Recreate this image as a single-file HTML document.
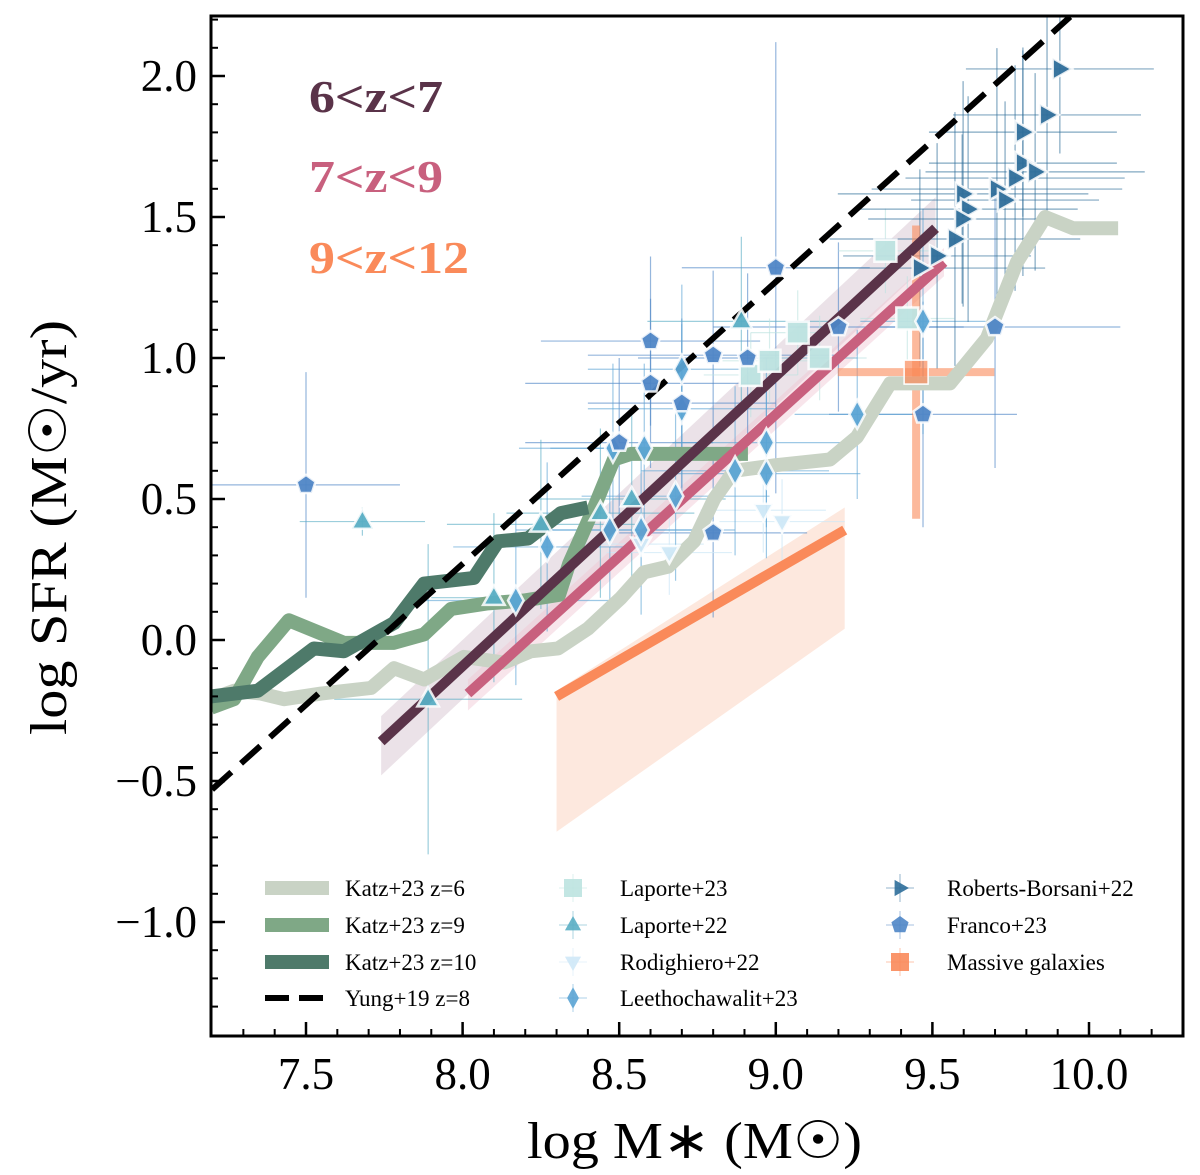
<!DOCTYPE html>
<html><head><meta charset="utf-8"><style>
html,body{margin:0;padding:0;background:#fff}
svg{display:block;font-family:"Liberation Serif",serif}
</style></head><body>
<svg id="chart" width="1200" height="1175" viewBox="0 0 1200 1175" xmlns="http://www.w3.org/2000/svg">
<g id="bands"></g>
<g id="errs"></g>
<g id="lines"></g>
<g id="marks"></g>
<g id="axes"></g>
<g id="legend"></g>
<text x="309" y="112" font-size="46" font-weight="bold" fill="#5a3349" textLength="134" lengthAdjust="spacingAndGlyphs">6&lt;z&lt;7</text>
<text x="309" y="192" font-size="46" font-weight="bold" fill="#c8607e" textLength="134" lengthAdjust="spacingAndGlyphs">7&lt;z&lt;9</text>
<text x="309" y="273" font-size="46" font-weight="bold" fill="#fa8a5a" textLength="160" lengthAdjust="spacingAndGlyphs">9&lt;z&lt;12</text>
<text x="527" y="1158" font-size="52" textLength="335" lengthAdjust="spacingAndGlyphs">log M∗ (M☉)</text>
<text transform="translate(66,735) rotate(-90)" font-size="52" textLength="415" lengthAdjust="spacingAndGlyphs">log SFR (M☉/yr)</text>
</svg>
<script>
// ---- data ----
const katz6X=[7.197,7.27,7.356,7.43,7.548,7.708,7.781,7.877,8.004,8.132,8.218,8.305,8.4,8.506,8.579,8.656,8.739,8.803,8.867,9.0,9.173,9.259,9.365,9.556,9.674,9.77,9.86,9.949,10.093];
const katz6Y=[-0.21,-0.18,-0.19,-0.21,-0.19,-0.17,-0.1,-0.14,-0.06,-0.08,-0.04,-0.03,0.04,0.15,0.24,0.26,0.35,0.5,0.6,0.62,0.64,0.72,0.91,0.91,1.07,1.34,1.5,1.46,1.46];
const katz9X=[7.197,7.27,7.346,7.445,7.621,7.781,7.877,7.963,8.081,8.196,8.308,8.34,8.42,8.483,8.538,8.911];
const katz9Y=[-0.24,-0.21,-0.06,0.07,-0.01,-0.01,0.02,0.11,0.13,0.14,0.16,0.27,0.47,0.64,0.66,0.66];
const katz10X=[7.197,7.346,7.525,7.621,7.781,7.877,8.036,8.113,8.209,8.314,8.4];
const katz10Y=[-0.2,-0.18,-0.03,-0.04,0.06,0.2,0.22,0.35,0.36,0.45,0.47];
const yungX=[7.2,9.94];
const yungY=[-0.53,2.21];
const fit67X=[7.74,9.51];const fit67Y=[-0.36,1.46];const fit67Lo=[-0.48,1.36];const fit67Hi=[-0.27,1.57];
const fit79X=[8.017,9.537];const fit79Y=[-0.19,1.34];const fit79Lo=[-0.25,1.29];const fit79Hi=[-0.14,1.39];
const fit912X=[8.3,9.22];const fit912Y=[-0.2,0.39];const fit912Lo=[-0.68,0.04];const fit912Hi=[-0.18,0.47];
const massX=[9.448];const massY=[0.95];const massXe=[0.25];const massYe=[0.52];
const francoX=[7.5,8.6,8.6,8.8,8.91,9.0,9.2,8.5,8.8,9.47,9.7,8.7];
const francoY=[0.55,1.06,0.91,1.01,1.0,1.32,1.11,0.7,0.38,0.8,1.11,0.84];
const francoXe=[0.3,0.35,0.4,0.4,0.35,0.3,0.4,0.3,0.3,0.3,0.4,0.3];
const francoYe=[0.4,0.3,0.3,0.3,0.3,0.8,0.3,0.3,0.3,0.4,0.5,0.3];
const lap22X=[7.68,7.89,8.1,8.25,8.44,8.54,8.89];
const lap22Y=[0.42,-0.21,0.15,0.41,0.45,0.5,1.13];
const lap22Xe=[0.2,0.3,0.2,0.3,0.3,0.3,0.3];
const lap22Ye=[0.05,0.55,0.3,0.3,0.3,0.3,0.3];
const lap23X=[8.92,8.98,9.07,9.14,9.35,9.42];
const lap23Y=[0.94,0.99,1.09,1.0,1.38,1.14];
const lap23Xe=[0.15,0.15,0.15,0.15,0.15,0.15];
const lap23Ye=[0.15,0.15,0.15,0.15,0.15,0.15];
const rodX=[8.66,8.96,9.02,8.57];
const rodY=[0.31,0.46,0.42,0.34];
const rodXe=[0.2,0.2,0.2,0.2];
const rodYe=[0.15,0.15,0.15,0.15];
const leeX=[8.27,8.17,8.47,8.57,8.68,8.48,8.58,8.87,8.97,8.97,9.26,9.47,8.7,8.7];
const leeY=[0.33,0.14,0.39,0.39,0.51,0.68,0.68,0.6,0.59,0.7,0.8,1.13,0.82,0.96];
const leeXe=[0.3,0.3,0.3,0.3,0.3,0.3,0.3,0.3,0.3,0.3,0.2,0.2,0.3,0.3];
const leeYe=[0.3,0.3,0.3,0.3,0.3,0.3,0.3,0.3,0.3,0.3,0.3,0.4,0.3,0.3];
const rbX=[9.907,9.866,9.789,9.789,9.764,9.828,9.706,9.732,9.598,9.614,9.595,9.572,9.515,9.46];
const rbY=[2.025,1.862,1.801,1.691,1.638,1.66,1.599,1.56,1.582,1.528,1.493,1.422,1.362,1.319];
const rbXe=[0.3,0.3,0.3,0.3,0.35,0.35,0.4,0.3,0.4,0.35,0.3,0.4,0.3,0.4];
const rbYe=[0.3,0.35,0.3,0.4,0.4,0.35,0.5,0.35,0.4,0.4,0.3,0.45,0.4,0.35];
const xTicks=[7.5,8.0,8.5,9.0,9.5,10.0];
const xTickLabels=["7.5","8.0","8.5","9.0","9.5","10.0"];
const yTicks=[-1.0,-0.5,0.0,0.5,1.0,1.5,2.0];
const yTickLabels=["−1.0","−0.5","0.0","0.5","1.0","1.5","2.0"];

// ---- scales ----
const L=211,R=1183,T=16,B=1036;
const X=v=>306+(v-7.5)*313.2;
const Y=v=>640-v*282;
const NS="http://www.w3.org/2000/svg";
function mk(tag,parent,attrs){const e=document.createElementNS(NS,tag);for(const k in attrs)e.setAttribute(k,attrs[k]);parent.appendChild(e);return e;}
const gB=document.getElementById('bands'),gE=document.getElementById('errs'),gL=document.getElementById('lines'),gM=document.getElementById('marks'),gA=document.getElementById('axes'),gG=document.getElementById('legend');
const clip=mk('clipPath',document.getElementById('chart'),{id:'pc'});
mk('rect',clip,{x:L,y:T,width:R-L,height:B-T});
[gB,gE,gL,gM].forEach(g=>g.setAttribute('clip-path','url(#pc)'));

function band(xs,lo,hi,fill,op,name){
  const p=xs.map((x,i)=>X(x)+','+Y(lo[i])).concat(xs.map((x,i)=>X(x)+','+Y(hi[i])).reverse());
  const e=mk('polygon',gB,{points:p.join(' '),fill:fill,'fill-opacity':op});
  
  
}
band(fit912X,fit912Lo,fit912Hi,'#fcd9c8',0.6,'band-9z12');
band(fit67X,fit67Lo,fit67Hi,'#d8c6d1',0.5,'band-6z7');
band(fit79X,fit79Lo,fit79Hi,'#f0c5d3',0.45,'band-7z9');

function errs(xs,ys,xe,ye,col,w,op,name){
  xs.forEach((x,i)=>{
    const g=mk('g',gE,{stroke:col,'stroke-width':w,'stroke-opacity':op});
    
    
    mk('line',g,{x1:X(x-xe[i]),x2:X(x+xe[i]),y1:Y(ys[i]),y2:Y(ys[i])});
    mk('line',g,{x1:X(x),x2:X(x),y1:Y(ys[i]-ye[i]),y2:Y(ys[i]+ye[i])});
  });
}
errs(francoX,francoY,francoXe,francoYe,'#4f86c6',1.2,0.6,'franco');
errs(lap22X,lap22Y,lap22Xe,lap22Ye,'#5aaec4',1.2,0.6,'laporte22');
errs(lap23X,lap23Y,lap23Xe,lap23Ye,'#bde3e0',1.2,0.6,'laporte23');
errs(rodX,rodY,rodXe,rodYe,'#cfe8f7',1.2,0.7,'rodighiero');
errs(leeX,leeY,leeXe,leeYe,'#5ba4d4',1.2,0.6,'leethochawalit');
errs(rbX,rbY,rbXe,rbYe,'#2e6e9a',1.2,0.6,'roberts-borsani');

function line(xs,ys,col,w,name,dash){
  const e=mk('polyline',gL,{points:xs.map((x,i)=>X(x)+','+Y(ys[i])).join(' '),fill:'none',stroke:col,'stroke-width':w,'stroke-linejoin':'round'});
  if(dash)e.setAttribute('stroke-dasharray',dash);
  
  
}
line(katz6X,katz6Y,'#c9d3c5',14,'katz-z6-line');
line(katz9X,katz9Y,'#7fa886',14,'katz-z9-line');
line(katz10X,katz10Y,'#4e7a6a',14,'katz-z10-line');
line(fit912X,fit912Y,'#fa8a5a',10,'fit-9z12-line');
line(fit67X,fit67Y,'#5a3349',10,'fit-6z7-line');
line(fit79X,fit79Y,'#c8607e',10,'fit-7z9-line');
line(yungX,yungY,'#000',6,'yung-z8-line','26,13');

// massive galaxy
massX.forEach((x,i)=>{
  const g=mk('g',gE,{stroke:'#fa8a5a','stroke-opacity':0.6,'stroke-width':8});
  
  
  mk('line',g,{x1:X(x-massXe[i]),x2:X(x+massXe[i]),y1:Y(massY[i]),y2:Y(massY[i])});
  mk('line',g,{x1:X(x),x2:X(x),y1:Y(massY[i]-massYe[i]),y2:Y(massY[i]+massYe[i])});
  const s=mk('rect',gM,{x:X(x)-12,y:Y(massY[i])-12,width:24,height:24,fill:'#fa8a5a','fill-opacity':0.7,stroke:'#fff','stroke-width':1.5});
  
  
});

function shape(type,cx,cy,r){
  let pts=[];
  if(type==='pent'){for(let k=0;k<5;k++){const a=-Math.PI/2+k*2*Math.PI/5;pts.push([cx+r*Math.cos(a),cy+r*Math.sin(a)]);}}
  else if(type==='tri'){pts=[[cx,cy-r],[cx+r*0.9,cy+r*0.6],[cx-r*0.9,cy+r*0.6]];}
  else if(type==='dtri'){pts=[[cx,cy+r],[cx+r*0.9,cy-r*0.6],[cx-r*0.9,cy-r*0.6]];}
  else if(type==='rtri'){pts=[[cx+r,cy],[cx-r*0.6,cy-r*0.9],[cx-r*0.6,cy+r*0.9]];}
  else if(type==='dia'){pts=[[cx,cy-r*1.2],[cx+r*0.65,cy],[cx,cy+r*1.2],[cx-r*0.65,cy]];}
  else if(type==='sq'){pts=[[cx-r,cy-r],[cx+r,cy-r],[cx+r,cy+r],[cx-r,cy+r]];}
  return pts.map(p=>p[0].toFixed(1)+','+p[1].toFixed(1)).join(' ');
}
function marks(xs,ys,type,col,r,name,parent,op){
  xs.forEach((x,i)=>{
    const e=mk('polygon',parent||gM,{points:shape(type,X(x),Y(ys[i]),r),fill:col,'fill-opacity':op||0.95,stroke:'#fff','stroke-width':2.5,'stroke-opacity':0.85});
    
    
  });
}
marks(lap23X,lap23Y,'sq','#bde3e0',11,'laporte23');
marks(rodX,rodY,'dtri','#cfe8f7',11,'rodighiero');
marks(lap22X,lap22Y,'tri','#5aaec4',12,'laporte22');
marks(leeX,leeY,'dia','#5ba4d4',12,'leethochawalit');
marks(francoX,francoY,'pent','#4f86c6',10,'franco');
marks(rbX,rbY,'rtri','#2e6e9a',12,'roberts-borsani');

// ---- axes ----
mk('rect',gA,{x:L,y:T,width:R-L,height:B-T,fill:'none',stroke:'#000','stroke-width':3});
for(let v=7.2;v<=10.3001;v+=0.1){const px=X(v);if(px<L+2||px>R-2)continue;mk('line',gA,{x1:px,x2:px,y1:B,y2:B-7,stroke:'#000','stroke-width':2});}
for(let v=-1.4;v<=2.2001;v+=0.1){const py=Y(v);if(py<T+2||py>B-2)continue;mk('line',gA,{x1:L,x2:L+7,y1:py,y2:py,stroke:'#000','stroke-width':2});}
xTicks.forEach((v,i)=>{
  mk('line',gA,{x1:X(v),x2:X(v),y1:B,y2:B-14,stroke:'#000','stroke-width':2.5});
  const t=mk('text',gA,{x:X(v),y:1089,'font-size':45,'text-anchor':'middle'});t.textContent=xTickLabels[i];
  
  
});
yTicks.forEach((v,i)=>{
  mk('line',gA,{x1:L,x2:L+14,y1:Y(v),y2:Y(v),stroke:'#000','stroke-width':2.5});
  const t=mk('text',gA,{x:197,y:Y(v)+15,'font-size':45,'text-anchor':'end'});t.textContent=yTickLabels[i];
  
  
});

// ---- legend ----
const legLines=[["Katz+23 z=6","#c9d3c5",888,null],["Katz+23 z=9","#7fa886",925,null],["Katz+23 z=10","#4e7a6a",962,null],["Yung+19 z=8","#000",998,"24,10"]];
legLines.forEach(d=>{
  const g=mk('g',gG,{});
  
  
  const l=mk('line',g,{x1:265,x2:329,y1:d[2],y2:d[2],stroke:d[1],'stroke-width':d[3]?6:14});
  if(d[3])l.setAttribute('stroke-dasharray',d[3]);
  const t=mk('text',g,{x:345,y:d[2]+8,'font-size':23});t.textContent=d[0];
});
const legMarks=[["Laporte+23","sq","#bde3e0",573,888],["Laporte+22","tri","#5aaec4",573,925],["Rodighiero+22","dtri","#cfe8f7",573,962],["Leethochawalit+23","dia","#5ba4d4",573,998],["Roberts-Borsani+22","rtri","#2e6e9a",900,888],["Franco+23","pent","#4f86c6",900,925],["Massive galaxies","sq","#fa8a5a",900,962]];
legMarks.forEach(d=>{
  const g=mk('g',gG,{});
  
  
  mk('line',g,{x1:d[3]-14,x2:d[3]+14,y1:d[4],y2:d[4],stroke:d[2],'stroke-width':1,'stroke-opacity':0.5});
  mk('line',g,{x1:d[3],x2:d[3],y1:d[4]-14,y2:d[4]+14,stroke:d[2],'stroke-width':1,'stroke-opacity':0.5});
  mk('polygon',g,{points:shape(d[1],d[3],d[4],9),fill:d[2],'fill-opacity':0.9});
  const t=mk('text',g,{x:d[3]+47,y:d[4]+8,'font-size':23});t.textContent=d[0];
});
</script>
</body></html>
